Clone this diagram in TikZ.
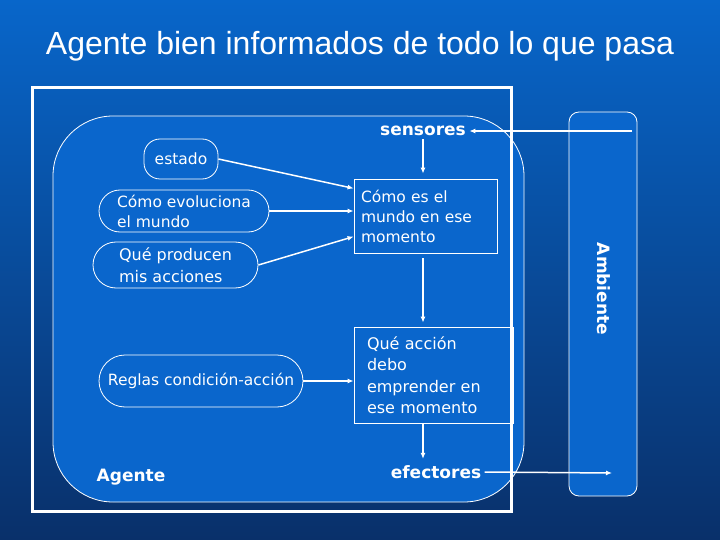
\documentclass[tikz,border=0pt]{standalone}
\usepackage{fontspec}
\setmainfont{DejaVu Sans}
\newfontfamily\titlefont{Liberation Sans}
\usetikzlibrary{arrows.meta}
\definecolor{bgtop}{HTML}{0866CA}
\definecolor{bgbottom}{HTML}{09306A}
\definecolor{agentblue}{HTML}{0A66CC}

\begin{document}
\begin{tikzpicture}[
    x=1pt, y=-1pt,
    thinbox/.style={
        draw=white, line width=0.8pt, text=white, align=left,
        font=\fontsize{15.5}{20}\selectfont,
    },
    oval/.style={thinbox, rounded corners=#1},
    oval/.default=20,
    bold/.style={text=white, font=\fontsize{17}{20}\selectfont\bfseries},
    arr/.style={-{Latex[length=6pt,width=5pt]}, white, line width=1.5pt},
]

% ── Background ──
\shade[top color=bgtop, bottom color=bgbottom] (0,0) rectangle (720,540);
\useasboundingbox (0,0) rectangle (720,540);

% ── Title ──
\node[text=white, font=\titlefont\fontsize{32}{34}\selectfont] (title) at (360,46)
    {Agente bien informados de todo lo que pasa};

% ── Agent region and frame ──
\draw[white, line width=0.8pt, fill=agentblue, rounded corners=60] (53,116) rectangle (524,502);
\draw[white, line width=3pt] (32,88) rectangle (511,511);

% ── Ambiente ──
\draw[white, line width=0.8pt, fill=agentblue, rounded corners=10] (569,112) rectangle (637,496);
\node[bold, rotate=-90] (amb) at (604,289) {Ambiente};
\coordinate (ambin) at (632,131);
\coordinate (ambout) at (612,473);

% ── Left ovals ──
\node[oval=16, minimum width=74, minimum height=40] (estado) at (181,159) {estado};
\node[oval=21, minimum width=170, minimum height=42] (evol) at (184,211) {Cómo evoluciona\\el mundo};
\node[oval=23, minimum width=165, minimum height=46, font=\fontsize{16}{22}\selectfont] (prod) at (175.5,265)
    {Qué producen\\mis acciones};
\node[oval=26, minimum width=204, minimum height=52] (reglas) at (201,381) {Reglas condición-acción};

% ── Boxes ──
\node[thinbox, text width=129, inner xsep=7, minimum height=74] (mundo) at (425.5,216)
    {Cómo es el\\mundo en ese\\momento};
\node[thinbox, text width=133, inner xsep=13, minimum height=96, font=\fontsize{16}{21.5}\selectfont]
    (accion) at (433.5,375) {Qué acción\\debo\\emprender en\\ese momento};

% ── Labels ──
\node[bold] (sens) at (423,131) {sensores};
\node[bold] (efec) at (436,472) {efectores};
\node[bold] (agente) at (131,477) {Agente};

% ── Arrows ──
\draw[arr] (ambin) -- (sens.east);
\draw[arr, shorten >=5pt] (sens.south) -- (sens.south |- mundo.north);
\draw[arr, shorten <=5pt, shorten >=4pt] (sens.south |- mundo.south) -- (sens.south |- accion.north);
\draw[arr, shorten >=3pt] (sens.south |- accion.south) -- (sens.south |- efec.north);
\draw[arr] (efec.east) -- (ambout);

\draw[arr] (estado.east) -- (mundo.159);
\draw[arr] (evol.east) -- (evol.east -| mundo.west);
\draw[arr] (prod.east) -- (mundo.196);
\draw[arr] (reglas.east) -- (reglas.east -| accion.west);

\end{tikzpicture}
\end{document}
